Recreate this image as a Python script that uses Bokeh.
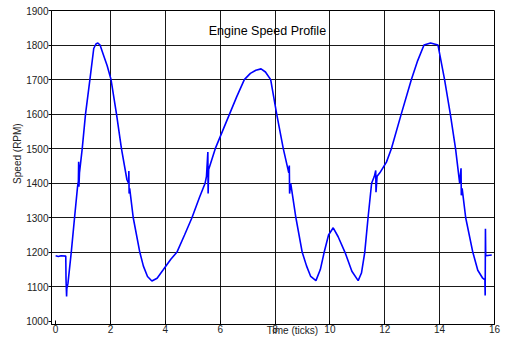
from bokeh.plotting import figure
from bokeh.models import FixedTicker, Label, Range1d
from bokeh.embed import file_html
from bokeh.resources import INLINE

# Data (time in ticks, engine speed in RPM)
time_ticks = [0.0, 0.1, 0.2, 0.37, 0.38, 0.40, 0.41, 0.45, 0.57, 0.69, 0.80, 0.83, 0.84, 0.85, 0.87,
              0.97, 1.09, 1.25, 1.39, 1.47, 1.54, 1.62, 1.75, 1.88, 2.02, 2.22, 2.40, 2.60, 2.66,
              2.67, 2.68, 2.70, 2.83, 3.07, 3.20, 3.35, 3.51, 3.70, 3.93, 4.20, 4.42, 4.70, 4.97,
              5.25, 5.45, 5.50, 5.55, 5.56, 5.58, 5.82, 6.08, 6.34, 6.60, 6.88, 7.10, 7.30, 7.49,
              7.65, 7.84, 8.06, 8.30, 8.50, 8.52, 8.53, 8.57, 8.76, 8.99, 9.15, 9.30, 9.49, 9.65,
              9.79, 9.95, 10.12, 10.30, 10.55, 10.80, 11.03, 11.15, 11.27, 11.39, 11.52, 11.62,
              11.67, 11.68, 11.72, 11.82, 12.06, 12.24, 12.60, 12.97, 13.20, 13.43, 13.67, 13.94,
              14.18, 14.39, 14.58, 14.73, 14.78, 14.79, 14.82, 14.95, 15.21, 15.39, 15.57, 15.65,
              15.66, 15.67, 15.68, 15.90]
speed_rpm = [1190, 1188, 1190, 1189, 1120, 1072, 1095, 1110, 1200, 1300, 1390, 1405, 1462, 1390, 1430,
             1500, 1600, 1700, 1790, 1803, 1806, 1800, 1770, 1740, 1700, 1600, 1500, 1410, 1400,
             1435, 1370, 1385, 1300, 1200, 1160, 1130, 1117, 1125, 1150, 1180, 1200, 1250, 1300,
             1360, 1400, 1420, 1490, 1370, 1440, 1500, 1550, 1600, 1650, 1700, 1718, 1727, 1731,
             1722, 1700, 1600, 1500, 1430, 1451, 1370, 1400, 1300, 1200, 1160, 1130, 1118, 1150,
             1200, 1250, 1271, 1245, 1200, 1145, 1118, 1140, 1200, 1300, 1400, 1420,
             1437, 1374, 1420, 1430, 1461, 1500, 1600, 1700, 1755, 1800, 1806, 1800,
             1700, 1600, 1500, 1400, 1443, 1365, 1385, 1300, 1200, 1148, 1125, 1120,
             1075, 1268, 1190, 1192]

x_ticks = [0, 2, 4, 6, 8, 10, 12, 14, 16]
y_ticks = [1000, 1100, 1200, 1300, 1400, 1500, 1600, 1700, 1800, 1900]
x_grid = [2, 4, 6, 8, 10, 12, 14]
y_grid = [1100, 1200, 1300, 1400, 1500, 1600, 1700, 1800]

title_text = "Engine Speed Profile"
x_label = "Time (ticks)"
y_label = "Speed (RPM)"

FONT = "Liberation Sans"
PAD = "\u2007"  # figure space, used to shift the centred axis labels

p = figure(width=509, height=339, output_backend="svg", toolbar_location=None,
           x_range=Range1d(-0.15, 16), y_range=Range1d(991, 1900),
           min_border_left=51, min_border_right=15, min_border_top=10, min_border_bottom=15)
p.background_fill_color = "white"
p.border_fill_color = "white"
p.outline_line_color = "black"
p.outline_line_width = 1

p.line(time_ticks, speed_rpm, line_color="#0000FF", line_width=1.6)

p.xaxis.ticker = FixedTicker(ticks=x_ticks)
p.yaxis.ticker = FixedTicker(ticks=y_ticks)
p.xgrid.ticker = FixedTicker(ticks=x_grid)
p.ygrid.ticker = FixedTicker(ticks=y_grid)
for g in (p.xgrid, p.ygrid):
    g.grid_line_color = "black"
    g.grid_line_width = 1
    g.grid_line_alpha = 0.9

for ax in (p.xaxis, p.yaxis):
    ax.axis_line_color = "black"
    ax.major_tick_line_color = "black"
    ax.minor_tick_line_color = None
    ax.major_label_text_font = FONT
    ax.major_label_text_font_size = "10px"
    ax.major_label_text_color = "#222222"
    ax.axis_label_text_font = FONT
    ax.axis_label_text_font_size = "10px"
    ax.axis_label_text_font_style = "normal"
    ax.axis_label_text_color = "#222222"

p.xaxis.major_tick_in = 4
p.xaxis.major_tick_out = 0
p.xaxis.major_label_standoff = 0
p.xaxis.major_label_text_align = "left"
p.xaxis.axis_label = PAD * 7 + x_label
p.xaxis.axis_label_standoff = -11

p.yaxis.major_tick_in = 0
p.yaxis.major_tick_out = 3
p.yaxis.major_label_standoff = 0
p.yaxis.axis_label = PAD * 5 + y_label
p.yaxis.axis_label_standoff = 0

p.add_layout(Label(x=7.72, y=1842, text=title_text, text_align="center",
                   text_baseline="alphabetic", text_font=FONT, text_font_size="12.5px",
                   text_color="black"))

open("out.html", "w").write(file_html(p, INLINE))
